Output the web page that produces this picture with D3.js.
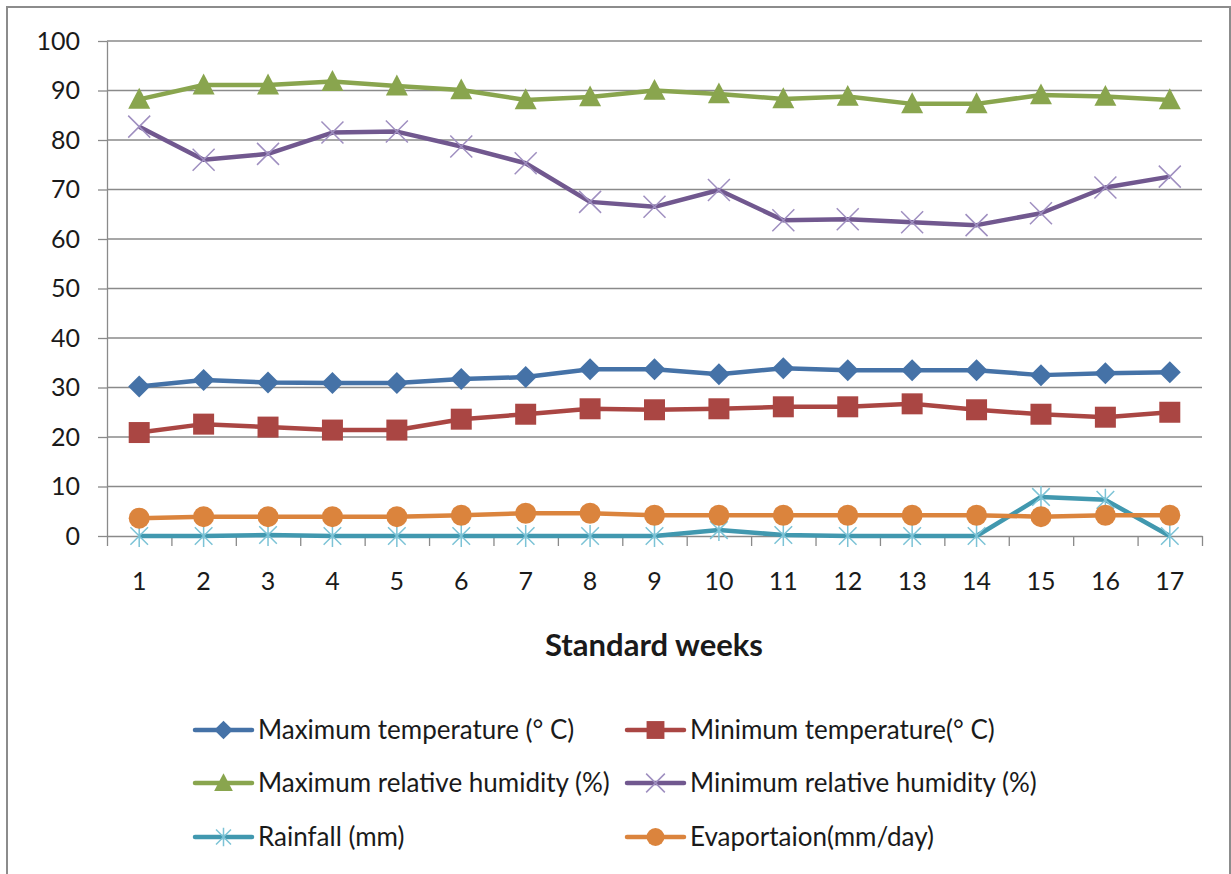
<!DOCTYPE html>
<html>
<head>
<meta charset="utf-8">
<script src="https://cdn.jsdelivr.net/npm/d3@7"></script>
<style>
	body { margin: 0; background: #fff; }
	#chart { width: 1231px; height: 874px; }
	text { font-family: Lato, "Open Sans", sans-serif; fill: #1a1a1a; }
</style>
</head>
<body>
<div id="chart"></div>
<script>
// data
const weeks = ["1", "2", "3", "4", "5", "6", "7", "8", "9", "10", "11", "12", "13", "14", "15", "16", "17"];
const maxTemp = [30.2, 31.5, 31.0, 30.9, 30.9, 31.7, 32.1, 33.7, 33.7, 32.7, 33.9, 33.5, 33.5, 33.5, 32.5, 32.9, 33.1];
const minTemp = [20.9, 22.6, 22.0, 21.4, 21.4, 23.6, 24.6, 25.7, 25.5, 25.7, 26.1, 26.1, 26.7, 25.5, 24.6, 24.0, 25.0];
const maxRH = [88.2, 91.1, 91.1, 91.8, 90.9, 90.1, 88.1, 88.7, 90.0, 89.3, 88.3, 88.8, 87.3, 87.3, 89.1, 88.8, 88.1];
const minRH = [82.7, 76.0, 77.2, 81.5, 81.7, 78.7, 75.3, 67.5, 66.5, 69.9, 63.8, 64.0, 63.4, 62.8, 65.2, 70.4, 72.6];
const rainfall = [0, 0, 0.2, 0, 0, 0, 0, 0, 0, 1.2, 0.2, 0, 0, 0, 7.9, 7.3, 0];
const evaporation = [3.6, 3.9, 3.9, 3.9, 3.9, 4.2, 4.6, 4.6, 4.2, 4.2, 4.2, 4.2, 4.2, 4.2, 3.9, 4.2, 4.2];
const yTicks = [0, 10, 20, 30, 40, 50, 60, 70, 80, 90, 100];

const seriesNames = [
	"Maximum temperature (° C)",
	"Minimum temperature(° C)",
	"Maximum relative humidity (%)",
	"Minimum relative humidity (%)",
	"Rainfall (mm)",
	"Evaportaion(mm/day)",
];
const seriesValues = [maxTemp, minTemp, maxRH, minRH, rainfall, evaporation];
const shapes = ["diamond", "square", "triangle", "x", "star", "circle"];
const colors = ["#4572A7", "#AA4643", "#89A54E", "#71588F", "#4198AF", "#DB843D"];
const markerStroke = ["#4572A7", "#AA4643", "#89A54E", "#9f8fc0", "#7cc3d6", "#DB843D"];

const width = 1231;
const height = 874;
const margin = { top: 41, right: 29, bottom: 338, left: 107 };

const svg = d3
	.select("#chart")
	.append("svg")
	.attr("width", width)
	.attr("height", height);

// outer frame
svg.append("rect")
	.attr("x", 7)
	.attr("y", 7)
	.attr("width", 1223)
	.attr("height", 900)
	.attr("fill", "none")
	.attr("stroke", "#8c8c8c")
	.attr("stroke-width", 2);

const xScale = d3
	.scaleBand()
	.domain(weeks)
	.range([margin.left, width - margin.right])
	.padding(0);

const xEdges = d3
	.scaleLinear()
	.domain([0, weeks.length])
	.range([margin.left, width - margin.right]);

const yScale = d3
	.scaleLinear()
	.domain([0, 100])
	.range([height - margin.bottom, margin.top]);

const cx = (i) => xScale(weeks[i]) + xScale.bandwidth() / 2;

// grid lines
yTicks.filter((t) => t > 0).forEach((t) => {
	svg.append("line")
		.attr("x1", margin.left)
		.attr("x2", width - margin.right)
		.attr("y1", yScale(t))
		.attr("y2", yScale(t))
		.attr("stroke", "#8a8a8a")
		.attr("stroke-width", 1.3);
});

// axes
const yAxis = d3.axisLeft(yScale).tickValues(yTicks).tickSize(9).tickPadding(18).tickSizeOuter(0);
const gy = svg.append("g")
	.attr("transform", `translate(${margin.left},0)`)
	.call(yAxis);
gy.selectAll("text").style("font-size", "25px");

const gxTicks = svg.append("g")
	.attr("transform", `translate(0,${yScale(0)})`)
	.call(d3.axisBottom(xEdges).tickValues(d3.range(0, weeks.length + 1)).tickFormat("").tickSize(10).tickSizeOuter(0));

const gx = svg.append("g")
	.attr("transform", `translate(0,${yScale(0)})`)
	.call(d3.axisBottom(xScale).tickSize(0).tickPadding(36));
gx.select(".domain").remove();
gx.selectAll("text").style("font-size", "25px");

[gy, gxTicks].forEach((g) => {
	g.selectAll("line").attr("stroke", "#8a8a8a").attr("stroke-width", 1.3);
	g.select(".domain").attr("stroke", "#8a8a8a").attr("stroke-width", 1.3);
});

// x axis title
svg.append("text")
	.attr("x", 654)
	.attr("y", 656)
	.attr("text-anchor", "middle")
	.style("font-size", "31px")
	.style("font-weight", "bold")
	.text("Standard weeks");

// marker shapes
function markerPath(shape, s) {
	const h = s / 2;
	switch (shape) {
		case "diamond":
			return `M0,${-h}L${h},0L0,${h}L${-h},0Z`;
		case "square":
			return `M${-h},${-h}H${h}V${h}H${-h}Z`;
		case "triangle":
			return `M0,${-h * 1.05}L${h},${h * 0.85}L${-h},${h * 0.85}Z`;
		case "circle":
			return d3.symbol(d3.symbolCircle, Math.PI * h * h)();
		case "x":
			return `M${-h},${-h}L${h},${h}M${-h},${h}L${h},${-h}`;
		case "star":
			return `M0,${-h}V${h}M${-h * 0.8},${-h * 0.8}L${h * 0.8},${h * 0.8}M${-h * 0.8},${h * 0.8}L${h * 0.8},${-h * 0.8}`;
	}
}
const filled = (shape) => shape !== "x" && shape !== "star";
const markerSize = [22, 21, 22, 22, 22, 21];

const line = d3
	.line()
	.x((d, i) => cx(i))
	.y((d) => yScale(d));

seriesValues.forEach((values, k) => {
	svg.append("path")
		.datum(values)
		.attr("d", line)
		.attr("fill", "none")
		.attr("stroke", colors[k])
		.attr("stroke-width", 4.5)
		.attr("stroke-linejoin", "round");

	svg.selectAll(null)
		.data(values)
		.enter()
		.append("path")
		.attr("transform", (d, i) => `translate(${cx(i)},${yScale(d)})`)
		.attr("d", markerPath(shapes[k], markerSize[k]))
		.attr("fill", filled(shapes[k]) ? colors[k] : "none")
		.attr("stroke", markerStroke[k])
		.attr("stroke-width", filled(shapes[k]) ? 0 : 1.5);
});

// legend
const legendCols = [195, 627];
const legendRows = [730, 783, 837];
seriesNames.forEach((name, k) => {
	const x0 = legendCols[k % 2];
	const y0 = legendRows[Math.floor(k / 2)];
	const g = svg.append("g").attr("transform", `translate(${x0},${y0})`);
	g.append("line")
		.attr("x1", 0)
		.attr("x2", 57)
		.attr("stroke", colors[k])
		.attr("stroke-width", 4.5)
		.attr("stroke-linecap", "round");
	g.append("path")
		.attr("transform", "translate(28.5,0)")
		.attr("d", markerPath(shapes[k], markerSize[k] * 0.85))
		.attr("fill", filled(shapes[k]) ? colors[k] : "none")
		.attr("stroke", markerStroke[k])
		.attr("stroke-width", filled(shapes[k]) ? 0 : 1.5);
	g.append("text")
		.attr("x", 63)
		.attr("dy", "0.35em")
		.style("font-size", "26px")
		.text(name);
});
</script>
</body>
</html>
